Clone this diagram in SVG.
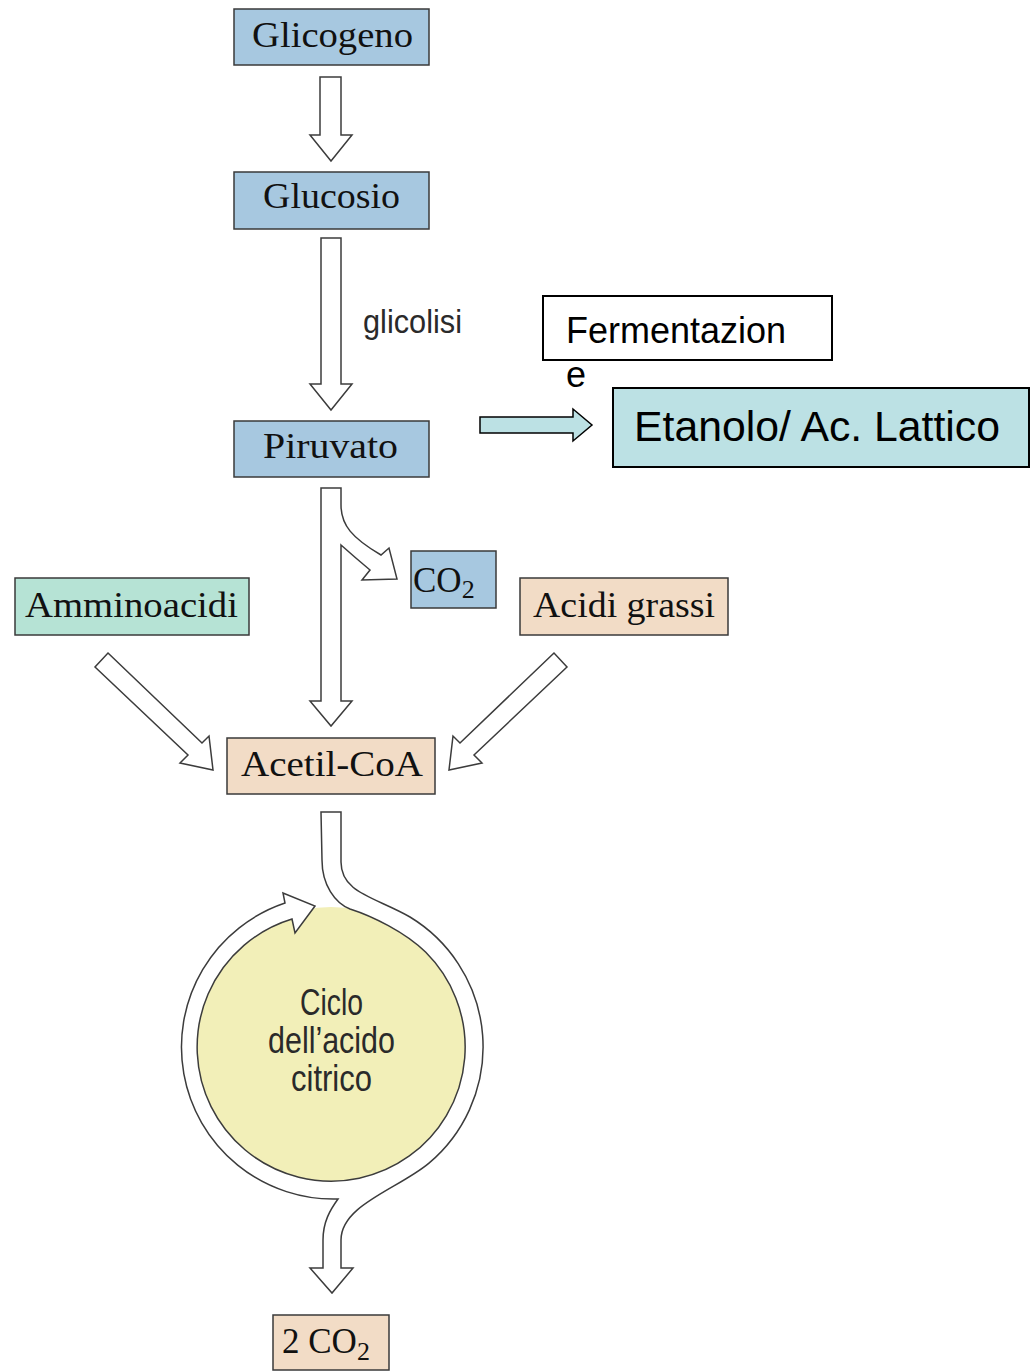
<svg xmlns="http://www.w3.org/2000/svg" width="1035" height="1371" viewBox="0 0 1035 1371">
<style>
.box{stroke:#3a3a3a;stroke-width:1.5}
.blue{fill:#a7c8e0}
.peach{fill:#f2dcc6}
.mint{fill:#b6e3d5}
.cyan{fill:#bce1e4;stroke:#000;stroke-width:2}
.white{fill:#fff;stroke:#000;stroke-width:2}
.arrow{fill:#fff;stroke:#3c3c3c;stroke-width:1.5;stroke-linejoin:miter}
.serif{font-family:"Liberation Serif","Times New Roman",serif;font-size:35px;fill:#111}
.sans{font-family:"Liberation Sans",Arial,sans-serif;fill:#000}
.cond{font-family:"Liberation Sans",Arial,sans-serif;fill:#2a2a2a}
</style>
<rect width="1035" height="1371" fill="#fff"/>

<g id="connectors">
  <polygon class="arrow" points="320,77 341,77 341,135 352,135 331,161 310,135 320,135"/>
  <polygon class="arrow" points="321,238 341,238 341,384 352,384 331,410 310,384 321,384"/>
  <path class="arrow" d="M321,488 L341,488 L341,505 C341,525 352,538 381,555 L389,548 L397,579 L362,580 L370,570 C358,560 350,553 341,545 L341,701 L352,701 L331,726 L310,701 L321,701 Z"/>
  <polygon points="480,417 573,417 573,409 592,425 573,441 573,433 480,433" fill="#bce1e4" stroke="#000" stroke-width="1.5"/>
  <polygon class="arrow" points="108,653 202,743 209,736 213,770 180,763 188,755 95,667"/>
  <polygon class="arrow" points="554,653 460,743 453,736 449,770 482,763 474,755 567,667"/>
</g>

<g id="ciclo">
  <circle cx="331" cy="1047" r="140" fill="#f2efb8"/>
  <path class="arrow" d="M321,812 L341,812 L341,862 C341,893 375,897 410,917 A152,152 0 0 1 428.7,1163.4 C398,1189 341,1205 341,1240 L341,1268 L353,1268 L332,1293 L310,1268 L323,1268 L323,1240 C323,1222 330,1210 338,1199 A152,152 0 0 1 285,903 L283,893 L315,906 L295,933 L292,919 A134,134 0 1 0 425.8,952.3 C405,932 372,916 350,909 C335,903 322,885 322,860 Z"/>
  <text class="cond" x="300" y="1015" font-size="37" textLength="63" lengthAdjust="spacingAndGlyphs">Ciclo</text>
  <text class="cond" x="268" y="1053" font-size="37" textLength="127" lengthAdjust="spacingAndGlyphs">dell’acido</text>
  <text class="cond" x="291" y="1091" font-size="37" textLength="81" lengthAdjust="spacingAndGlyphs">citrico</text>
</g>

<text id="glicolisi" class="cond" x="363" y="333" font-size="33" fill="#444" textLength="99" lengthAdjust="spacingAndGlyphs">glicolisi</text>

<g id="glicogeno">
  <rect class="box blue" x="234" y="9" width="195" height="56"/>
  <text class="serif" x="252" y="47" textLength="161" lengthAdjust="spacingAndGlyphs">Glicogeno</text>
</g>
<g id="glucosio">
  <rect class="box blue" x="234" y="172" width="195" height="57"/>
  <text class="serif" x="263" y="208" textLength="137" lengthAdjust="spacingAndGlyphs">Glucosio</text>
</g>
<g id="piruvato">
  <rect class="box blue" x="234" y="421" width="195" height="56"/>
  <text class="serif" x="263" y="458" textLength="135" lengthAdjust="spacingAndGlyphs">Piruvato</text>
</g>
<g id="fermentazione">
  <rect class="white" x="543" y="296" width="289" height="64"/>
  <text class="sans" x="566" y="343" font-size="36">Fermentazion</text>
  <text class="sans" x="566" y="387" font-size="36">e</text>
</g>
<g id="etanolo">
  <rect class="cyan" x="613" y="388" width="416" height="79"/>
  <text class="sans" x="634" y="441" font-size="42" textLength="366" lengthAdjust="spacingAndGlyphs">Etanolo/ Ac. Lattico</text>
</g>
<g id="co2">
  <rect class="box blue" x="411" y="551" width="85" height="57"/>
  <text class="serif" x="413" y="592" font-size="42">CO<tspan font-size="26" dy="6">2</tspan></text>
</g>
<g id="amminoacidi">
  <rect class="box mint" x="15" y="578" width="234" height="57"/>
  <text class="serif" x="25" y="617" textLength="213" lengthAdjust="spacingAndGlyphs">Amminoacidi</text>
</g>
<g id="acidi-grassi">
  <rect class="box peach" x="520" y="578" width="208" height="57"/>
  <text class="serif" x="533" y="617" textLength="182" lengthAdjust="spacingAndGlyphs">Acidi grassi</text>
</g>
<g id="acetil-coa">
  <rect class="box peach" x="227" y="738" width="208" height="56"/>
  <text class="serif" x="241" y="776" textLength="182" lengthAdjust="spacingAndGlyphs">Acetil-CoA</text>
</g>
<g id="co2-out">
  <rect class="box peach" x="273" y="1315" width="116" height="55"/>
  <text class="serif" x="282" y="1353" font-size="40">2 CO<tspan font-size="26" dy="7">2</tspan></text>
</g>
</svg>
